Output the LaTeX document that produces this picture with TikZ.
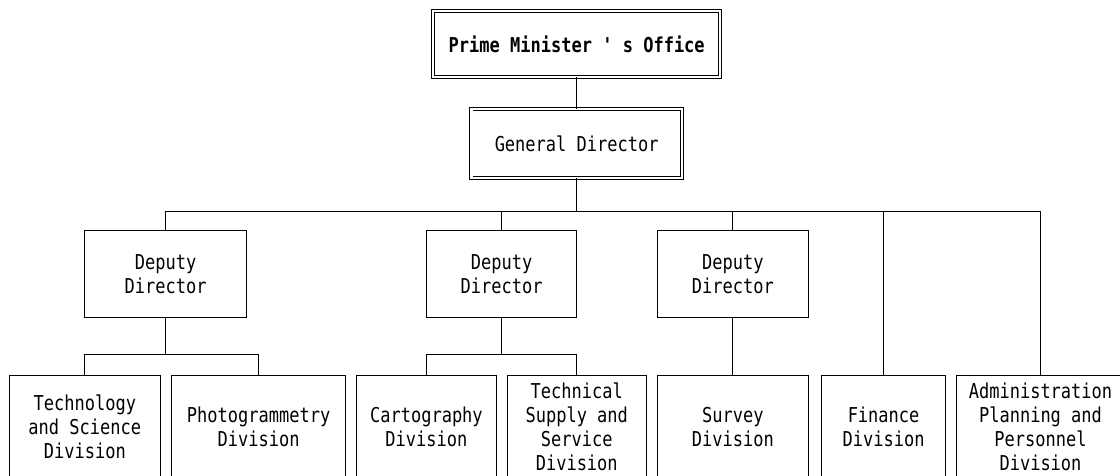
\documentclass[tikz,border=0pt]{standalone}
\usepackage{fontspec}
\newfontfamily\orgfont[FakeStretch=0.83]{DejaVu Sans Mono}
\begin{document}
\begin{tikzpicture}[x=1pt,y=-1pt,
  lbl/.style={font=\orgfont\fontsize{20.5}{24}\selectfont, align=center, inner sep=0pt, draw, line width=0.9pt},
  dbl/.style={lbl, double, double distance=2.4pt, line width=0.9pt},
  conn/.style={line width=0.9pt}]
\useasboundingbox (0,0) rectangle (1120,476);
\clip (0,0) rectangle (1120,476);
% top
\node[dbl, minimum width=287pt, minimum height=66pt, font=\orgfont\bfseries\fontsize{20.5}{24}\selectfont] (pm) at (576.7,43.9) {Prime Minister ' s Office};
\node[dbl, minimum width=210.7pt, minimum height=68.7pt] (gd) at (576.7,143.6) {General Director};
% deputies
\node[lbl, minimum width=162pt, minimum height=86.6pt] (d1) at (165.7,274) {Deputy\\Director};
\node[lbl, minimum width=150.4pt, minimum height=86.6pt] (d2) at (501.6,274) {Deputy\\Director};
\node[lbl, minimum width=150.7pt, minimum height=86.6pt] (d3) at (732.9,274) {Deputy\\Director};
% divisions
\node[lbl, minimum width=150.4pt, minimum height=104pt] (tech) at (84.8,427) {Technology\\and Science\\Division};
\node[lbl, minimum width=173.6pt, minimum height=104pt] (photo) at (258.6,427) {Photogrammetry\\Division};
\node[lbl, minimum width=139.2pt, minimum height=104pt] (carto) at (426.4,427) {Cartography\\Division};
\node[lbl, minimum width=138.5pt, minimum height=104pt] (tsup) at (576.75,427) {Technical\\Supply and\\Service\\Division};
\node[lbl, minimum width=150.3pt, minimum height=104pt] (survey) at (732.9,427) {Survey\\Division};
\node[lbl, minimum width=124.3pt, minimum height=104pt] (fin) at (883.6,427) {Finance\\Division};
\node[lbl, minimum width=169pt, minimum height=104pt] (adm) at (1040.5,427) {Administration\\Planning and\\Personnel\\Division};
% bus coordinates
\coordinate (bus) at (576.7,211.7);
\coordinate (sb1) at (165.7,354);
\coordinate (sb2) at (501.6,354);
% connectors
\draw[conn] (pm.south) -- (gd.north);
\draw[conn] (gd.south) -- (bus);
\draw[conn] (bus) -| (d1.north);
\draw[conn] (bus) -| (d2.north);
\draw[conn] (bus) -| (d3.north);
\draw[conn] (bus) -| (fin.north);
\draw[conn] (bus) -| (adm.north);
\draw[conn] (d1.south) -- (sb1);
\draw[conn] (sb1) -| (tech.north);
\draw[conn] (sb1) -| (photo.north);
\draw[conn] (d2.south) -- (sb2);
\draw[conn] (sb2) -| (carto.north);
\draw[conn] (sb2) -| (tsup.north);
\draw[conn] (d3.south) -- (survey.north);
\end{tikzpicture}
\end{document}
